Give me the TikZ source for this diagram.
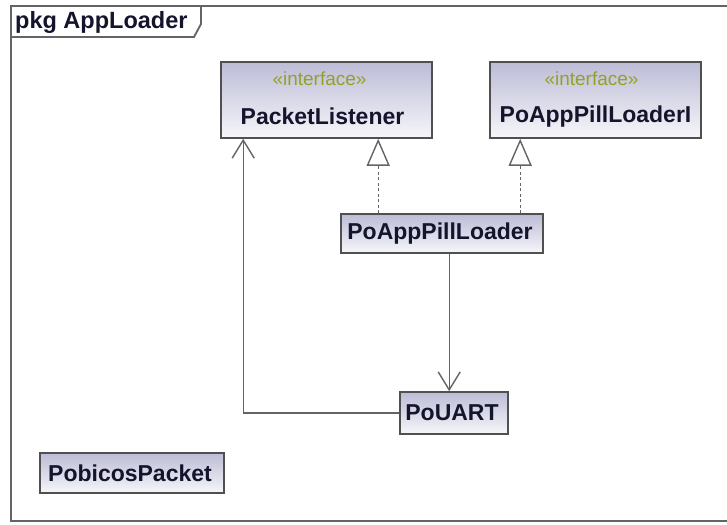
\documentclass[tikz,border=0pt]{standalone}
\usepackage{fontspec}
\setmainfont{Liberation Sans}
\usetikzlibrary{arrows.meta,calc}
\definecolor{framegray}{RGB}{100,100,100}
\definecolor{boxedge}{RGB}{80,80,80}
\definecolor{boxtop}{RGB}{188,188,214}
\definecolor{boxbot}{RGB}{246,246,250}
\definecolor{stereo}{RGB}{150,160,40}
\definecolor{ink}{RGB}{20,20,45}
\tikzset{
  classbox/.style={draw=boxedge, line width=1.6pt, rectangle, inner sep=0pt,
    top color=boxtop, bottom color=boxbot},
  classname/.style={font=\fontsize{23}{26}\selectfont\bfseries, text=ink, inner sep=0pt},
  stereotxt/.style={font=\fontsize{19}{21}\selectfont, text=stereo, inner sep=0pt},
  link/.style={draw=framegray, line width=1.4pt},
  realize/.style={link, dashed, dash pattern=on 3pt off 2.5pt,
    -{Triangle[open, length=27pt, width=23pt, fill=white]}},
  assoc/.style={link, -{Straight Barb[length=18pt, width=22pt]}}
}
\begin{document}
\begin{tikzpicture}[x=1pt, y=-1pt]
\useasboundingbox (0,0) rectangle (727,524);
\fill[white] (0,0) rectangle (727,524);

% package frame and name tab
\draw[framegray, line width=1.8pt] (740,6) -- (11,6) -- (11,521) -- (740,521);
\draw[framegray, line width=1.8pt] (11,37) -- (194,37) -- (201,24) -- (201,6);
\node[anchor=west, font=\fontsize{23.5}{26}\selectfont\bfseries, text=ink, inner sep=0pt]
  (pkg) at (15,22) {pkg AppLoader};

% classes and interfaces
\node[classbox, minimum width=211pt, minimum height=76pt] (pl) at (326.5,100) {};
\node[stereotxt] (plst) at ($(pl.north)+(-7,18)$) {«interface»};
\node[classname] (plnm) at ($(pl.north)+(-4,55)$) {PacketListener};

\node[classbox, minimum width=211pt, minimum height=76pt] (pi) at (595.5,100) {};
\node[stereotxt] (pist) at ($(pi.north)+(-4,18)$) {«interface»};
\node[classname] (pinm) at ($(pi.north)+(0,55)$) {PoAppPillLoaderI};

\node[classbox, minimum width=202pt, minimum height=39pt] (pal) at (442,233.5) {};
\node[classname] (palnm) at ($(pal.center)+(-2,0)$) {PoAppPillLoader};

\node[classbox, minimum width=108pt, minimum height=42pt] (pu) at (454,413) {};
\node[classname] (punm) at ($(pu.center)+(-2,0)$) {PoUART};

\node[classbox, minimum width=184pt, minimum height=40pt] (pp) at (132,473) {};
\node[classname] (ppnm) at ($(pp.center)+(-2,0)$) {PobicosPacket};

% relations
\draw[realize] ($(pal.north west)+(38,0)$) -- ($(pl.south west)+(158,0)$);
\draw[realize] ($(pal.north west)+(180,0)$) -- ($(pi.south west)+(31,0)$);
\draw[assoc] ($(pal.south west)+(109,0)$) -- ($(pu.north west)+(50,0)$);
\draw[assoc] (pu.west) -| ($(pl.south west)+(23,0)$);
\end{tikzpicture}
\end{document}
